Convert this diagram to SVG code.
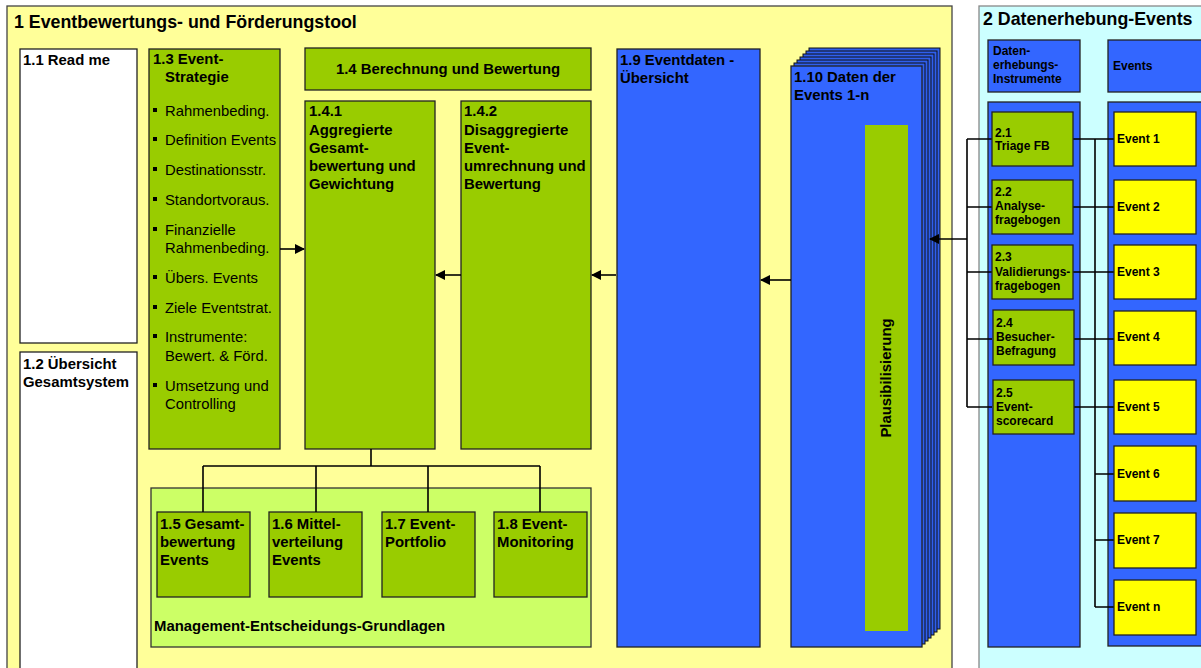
<svg xmlns="http://www.w3.org/2000/svg" width="1201" height="668" viewBox="0 0 1201 668">
<defs>
<style>
text{font-family:"Liberation Sans",Arial,sans-serif;fill:#000}
.t{font-size:17.8px;font-weight:bold}
.b{font-size:14.9px;font-weight:bold}
.n{font-size:14.8px}
.s{font-size:12px;font-weight:bold}
.bx{stroke:#222;stroke-width:1.3}
.g{fill:#99CC00}
.bl{fill:#3366FF}
.w{fill:#FFFFFF}
.y{fill:#FFFF00}
.ln{stroke:#000;stroke-width:1.6;fill:none}
</style>
<marker id="ah" markerWidth="10" markerHeight="10" refX="9" refY="5" orient="auto" markerUnits="userSpaceOnUse">
<path d="M0,0 L10,5 L0,10 Z" fill="#000"/>
</marker>
</defs>
<rect width="1201" height="668" fill="#FFFFFF"/>
<g id="panel1">
<rect x="7" y="6" width="945" height="670" fill="#FFFF99" stroke="#444" stroke-width="1.3"/>
<text class="t" x="14" y="28">1 Eventbewertungs- und Förderungstool</text>
</g>
<g id="panel2">
<rect x="979" y="6" width="230" height="670" fill="#CCFFFF" stroke="#888" stroke-width="1.3"/>
<text class="t" x="983" y="25">2 Datenerhebung-Events</text>
</g>
<g id="n11"><rect class="bx w" x="20" y="49" width="117" height="294"/><text class="b" x="23" y="65">1.1 Read me</text></g>
<g id="n12"><rect class="bx w" x="20" y="352" width="117" height="330"/><text class="b" x="23" y="369">1.2 Übersicht</text><text class="b" x="23" y="387">Gesamtsystem</text></g>
<g id="n13">
<rect class="bx g" x="149" y="49" width="131" height="400"/>
<text class="b" x="153" y="64">1.3 Event-</text><text class="b" x="165" y="82">Strategie</text>
<g fill="#000"><rect x="153" y="108" width="4" height="4"/><rect x="153" y="137" width="4" height="4"/><rect x="153" y="167" width="4" height="4"/><rect x="153" y="197" width="4" height="4"/><rect x="153" y="227" width="4" height="4"/><rect x="153" y="275" width="4" height="4"/><rect x="153" y="305" width="4" height="4"/><rect x="153" y="334" width="4" height="4"/><rect x="153" y="383" width="4" height="4"/></g>
<text class="n" x="165" y="116">Rahmenbeding.</text>
<text class="n" x="165" y="145">Definition Events</text>
<text class="n" x="165" y="175">Destinationsstr.</text>
<text class="n" x="165" y="205">Standortvoraus.</text>
<text class="n" x="165" y="235">Finanzielle</text><text class="n" x="165" y="253">Rahmenbeding.</text>
<text class="n" x="165" y="283">Übers. Events</text>
<text class="n" x="165" y="313">Ziele Eventstrat.</text>
<text class="n" x="165" y="342">Instrumente:</text><text class="n" x="165" y="361">Bewert. &amp; Förd.</text>
<text class="n" x="165" y="391">Umsetzung und</text><text class="n" x="165" y="409">Controlling</text>
</g>
<g id="n14"><rect class="bx g" x="305" y="48" width="286" height="42"/><text class="b" x="448" y="74" text-anchor="middle">1.4 Berechnung und Bewertung</text></g>
<g id="n141"><rect class="bx g" x="305" y="101" width="130" height="348"/>
<text class="b" x="309" y="116">1.4.1</text><text class="b" x="309" y="135">Aggregierte</text><text class="b" x="309" y="153">Gesamt-</text><text class="b" x="309" y="171">bewertung und</text><text class="b" x="309" y="189">Gewichtung</text></g>
<g id="n142"><rect class="bx g" x="461" y="101" width="130" height="348"/>
<text class="b" x="464" y="116">1.4.2</text><text class="b" x="464" y="135">Disaggregierte</text><text class="b" x="464" y="153">Event-</text><text class="b" x="464" y="171">umrechnung und</text><text class="b" x="464" y="189">Bewertung</text></g>
<g id="mgmt"><rect x="151" y="488" width="440" height="159" fill="#CCFF66" stroke="#333" stroke-width="1.3"/>
<text class="b" x="154" y="631">Management-Entscheidungs-Grundlagen</text></g>
<g id="n15"><rect class="bx g" x="157" y="512" width="93" height="85"/><text class="b" x="160" y="529">1.5 Gesamt-</text><text class="b" x="160" y="547">bewertung</text><text class="b" x="160" y="565">Events</text></g>
<g id="n16"><rect class="bx g" x="269" y="512" width="93" height="85"/><text class="b" x="272" y="529">1.6 Mittel-</text><text class="b" x="272" y="547">verteilung</text><text class="b" x="272" y="565">Events</text></g>
<g id="n17"><rect class="bx g" x="382" y="512" width="93" height="85"/><text class="b" x="385" y="529">1.7 Event-</text><text class="b" x="385" y="547">Portfolio</text></g>
<g id="n18"><rect class="bx g" x="494" y="512" width="93" height="85"/><text class="b" x="497" y="529">1.8 Event-</text><text class="b" x="497" y="547">Monitoring</text></g>
<g id="n19"><rect class="bx bl" x="617" y="49" width="143" height="598"/><text class="b" x="620" y="65">1.9 Eventdaten -</text><text class="b" x="620" y="83">Übersicht</text></g>
<g id="n110">
<g fill="#2F5FEE" stroke="#111" stroke-width="1">
<rect x="809" y="48" width="131" height="581"/>
<rect x="806" y="51" width="131" height="581"/>
<rect x="803" y="54" width="131" height="581"/>
<rect x="800" y="57" width="131" height="581"/>
<rect x="797" y="60" width="131" height="581"/>
<rect x="794" y="63" width="131" height="581"/>
</g>
<rect class="bx bl" x="791" y="66" width="131" height="581"/>
<text class="b" x="794" y="82">1.10 Daten der</text><text class="b" x="794" y="100">Events 1-n</text>
<rect x="865" y="125" width="43" height="506" fill="#99CC00"/>
<text class="b" transform="translate(891,378) rotate(-90)" text-anchor="middle">Plausibilisierung</text>
</g>
<g id="h1"><rect class="bx bl" x="988" y="40" width="92" height="52"/><text class="s" x="993" y="55">Daten-</text><text class="s" x="993" y="69">erhebungs-</text><text class="s" x="993" y="83">Instrumente</text></g>
<g id="h2"><rect class="bx bl" x="1108" y="40" width="100" height="52"/><text class="s" x="1113" y="70">Events</text></g>
<g id="col1"><rect class="bx bl" x="988" y="102" width="92" height="545"/></g>
<g id="col2"><rect class="bx bl" x="1108" y="102" width="100" height="544"/></g>
<g id="connectors">
<line class="ln" x1="280" y1="249" x2="304" y2="249" marker-end="url(#ah)"/>
<line class="ln" x1="461" y1="275" x2="436" y2="275" marker-end="url(#ah)"/>
<line class="ln" x1="616" y1="275" x2="592" y2="275" marker-end="url(#ah)"/>
<line class="ln" x1="791" y1="280" x2="761" y2="280" marker-end="url(#ah)"/>
<line class="ln" x1="967" y1="239" x2="930" y2="239" marker-end="url(#ah)"/>
<path class="ln" d="M371,449 V466 M203,466 H540 M203,466 V512 M316,466 V512 M428,466 V512 M540,466 V512"/>
<path class="ln" d="M967,139 V407 M967,139 H992 M967,207 H992 M967,272 H992 M967,339 H992 M967,407 H992"/>
<path class="ln" d="M1095,139 V607 M1073,139 H1114 M1073,207 H1114 M1073,272 H1114 M1074,339 H1114 M1074,407 H1114 M1095,474 H1114 M1095,540 H1114 M1095,607 H1114"/>
</g>
<g id="n21"><rect class="bx g" x="992" y="112" width="81" height="54"/><text class="s" x="995" y="137">2.1</text><text class="s" x="995" y="150">Triage FB</text></g>
<g id="n22"><rect class="bx g" x="992" y="180" width="81" height="54"/><text class="s" x="995" y="196">2.2</text><text class="s" x="995" y="210">Analyse-</text><text class="s" x="995" y="224">fragebogen</text></g>
<g id="n23"><rect class="bx g" x="992" y="245" width="81" height="54"/><text class="s" x="995" y="261">2.3</text><text class="s" x="995" y="276">Validierungs-</text><text class="s" x="995" y="290">fragebogen</text></g>
<g id="n24"><rect class="bx g" x="993" y="310" width="81" height="55"/><text class="s" x="996" y="327">2.4</text><text class="s" x="996" y="341">Besucher-</text><text class="s" x="996" y="355">Befragung</text></g>
<g id="n25"><rect class="bx g" x="993" y="380" width="81" height="54"/><text class="s" x="996" y="397">2.5</text><text class="s" x="996" y="411">Event-</text><text class="s" x="996" y="425">scorecard</text></g>
<g id="e1"><rect class="bx y" x="1114" y="112" width="82" height="54"/><text class="s" x="1117" y="143">Event 1</text></g>
<g id="e2"><rect class="bx y" x="1114" y="180" width="82" height="54"/><text class="s" x="1117" y="211">Event 2</text></g>
<g id="e3"><rect class="bx y" x="1114" y="245" width="82" height="54"/><text class="s" x="1117" y="276">Event 3</text></g>
<g id="e4"><rect class="bx y" x="1114" y="311" width="82" height="54"/><text class="s" x="1117" y="341">Event 4</text></g>
<g id="e5"><rect class="bx y" x="1114" y="380" width="82" height="54"/><text class="s" x="1117" y="411">Event 5</text></g>
<g id="e6"><rect class="bx y" x="1114" y="446" width="82" height="55"/><text class="s" x="1117" y="478">Event 6</text></g>
<g id="e7"><rect class="bx y" x="1114" y="513" width="82" height="55"/><text class="s" x="1117" y="544">Event 7</text></g>
<g id="en"><rect class="bx y" x="1114" y="580" width="82" height="55"/><text class="s" x="1117" y="611">Event n</text></g>
</svg>
